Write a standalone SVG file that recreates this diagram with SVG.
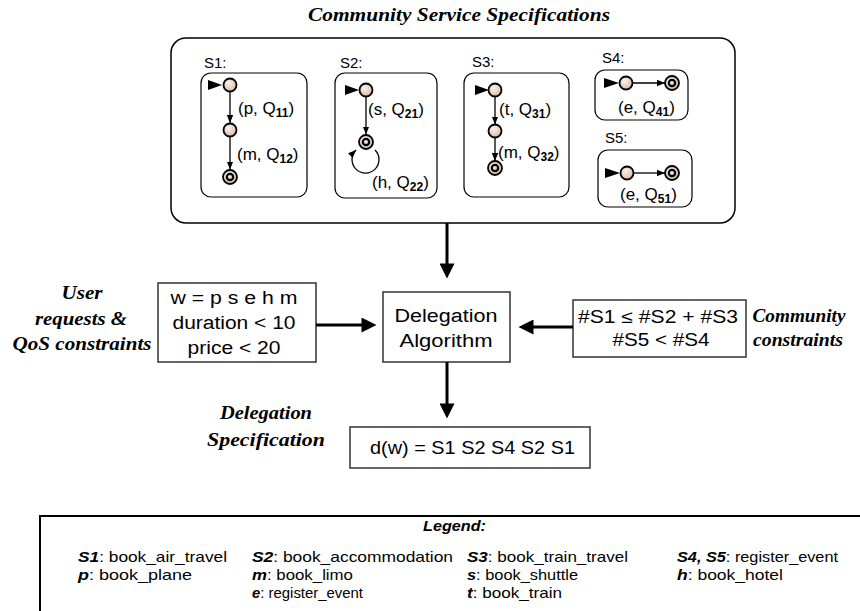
<svg xmlns="http://www.w3.org/2000/svg" width="860" height="611" viewBox="0 0 860 611">
<defs>
<radialGradient id="peach" cx="0.4" cy="0.35" r="0.7"><stop offset="0" stop-color="#fbf2ec"/><stop offset="1" stop-color="#d8b8a4"/></radialGradient>
<marker id="big" viewBox="0 0 10 10" refX="1" refY="5" markerWidth="5.5" markerHeight="5" orient="auto" markerUnits="strokeWidth"><path d="M0,0 L10,5 L0,10 z" fill="#000"/></marker>
<marker id="small" viewBox="0 0 10 10" refX="10" refY="5" markerWidth="8" markerHeight="8" orient="auto" markerUnits="userSpaceOnUse"><path d="M0,1 L10,5 L0,9 z" fill="#000"/></marker>
</defs>
<style>
.lbl{font-family:"Liberation Sans",Arial,sans-serif;fill:#000}
.it{font-family:"Liberation Serif","Times New Roman",serif;font-weight:bold;font-style:italic;fill:#000}
.st{fill:url(#peach);stroke:#000;stroke-width:1.8}
.fin{fill:url(#peach);stroke:#000;stroke-width:2.2}
.tr{stroke:#000;stroke-width:1.3;fill:none;marker-end:url(#small)}
.init{fill:#000}
.svc{fill:#fff;stroke:#000;stroke-width:1.2}
.box{fill:#fff;stroke:#333;stroke-width:1.5}
.big{stroke:#000;stroke-width:3;fill:none;marker-end:url(#big)}
.sub{font-size:12px;font-weight:bold}
.sl{font-size:17px}
.bx{font-size:18px}
.lg{font-size:15px}
.b{font-weight:bold;font-style:italic}
</style>
<rect width="860" height="611" fill="#fff"/>

<text class="it" x="308" y="21" font-size="19" textLength="302" lengthAdjust="spacingAndGlyphs">Community Service Specifications</text>

<g id="community">
<rect x="171" y="38" width="564" height="185" rx="15" fill="#fff" stroke="#000" stroke-width="1.5"/>
</g>

<g id="S1">
<text class="lbl" x="204" y="68" font-size="15">S1:</text>
<rect class="svc" x="201" y="73" width="106" height="124" rx="10"/>
<polygon class="init" points="208,80 222,85 208,90"/>
<line class="tr" x1="230" y1="92" x2="230" y2="123"/>
<line class="tr" x1="230" y1="137" x2="230" y2="169.5"/>
<circle class="st" cx="230" cy="85" r="6.5"/>
<circle class="st" cx="230" cy="130" r="6.5"/>
<circle class="st" cx="230" cy="177" r="7"/>
<circle class="fin" cx="230" cy="177" r="3.2"/>
<text class="lbl sl" x="238" y="114">(p, Q<tspan class="sub" dy="3">11</tspan><tspan dy="-3">)</tspan></text>
<text class="lbl sl" x="237" y="160">(m, Q<tspan class="sub" dy="3">12</tspan><tspan dy="-3">)</tspan></text>
</g>

<g id="S2">
<text class="lbl" x="340" y="68" font-size="15">S2:</text>
<rect class="svc" x="335" y="73" width="102" height="125" rx="10"/>
<polygon class="init" points="345,85 359,90 345,95"/>
<line class="tr" x1="366" y1="97" x2="366" y2="134.5"/>
<path class="tr" d="M375,150 A13.5,13.5 0 1 1 356,150"/>
<circle class="st" cx="366" cy="90" r="6.5"/>
<circle class="st" cx="366" cy="142" r="7"/>
<circle class="fin" cx="366" cy="142" r="3.2"/>
<text class="lbl sl" x="368" y="115">(s, Q<tspan class="sub" dy="3">21</tspan><tspan dy="-3">)</tspan></text>
<text class="lbl sl" x="372" y="188">(h, Q<tspan class="sub" dy="3">22</tspan><tspan dy="-3">)</tspan></text>
</g>

<g id="S3">
<text class="lbl" x="472" y="67" font-size="15">S3:</text>
<rect class="svc" x="464" y="73" width="105" height="124" rx="10"/>
<polygon class="init" points="475,85 489,90 475,95"/>
<line class="tr" x1="495" y1="97" x2="495" y2="124.5"/>
<line class="tr" x1="495" y1="138" x2="495" y2="161"/>
<circle class="st" cx="495" cy="90" r="6.5"/>
<circle class="st" cx="495" cy="131" r="6.5"/>
<circle class="st" cx="495" cy="168" r="7"/>
<circle class="fin" cx="495" cy="168" r="3.2"/>
<text class="lbl sl" x="499" y="115">(t, Q<tspan class="sub" dy="3">31</tspan><tspan dy="-3">)</tspan></text>
<text class="lbl sl" x="498" y="158">(m, Q<tspan class="sub" dy="3">32</tspan><tspan dy="-3">)</tspan></text>
</g>

<g id="S4">
<text class="lbl" x="602" y="63" font-size="15">S4:</text>
<rect class="svc" x="595" y="70" width="93" height="50" rx="10"/>
<polygon class="init" points="604,78 619,83 604,88"/>
<line class="tr" x1="632.5" y1="83" x2="665" y2="83"/>
<circle class="st" cx="626" cy="83" r="6.5"/>
<circle class="st" cx="672" cy="83" r="7"/>
<circle class="fin" cx="672" cy="83" r="3.2"/>
<text class="lbl sl" x="618" y="113">(e, Q<tspan class="sub" dy="3">41</tspan><tspan dy="-3">)</tspan></text>
</g>

<g id="S5">
<text class="lbl" x="605" y="143" font-size="15">S5:</text>
<rect class="svc" x="598" y="150" width="94" height="57" rx="10"/>
<polygon class="init" points="605,168 620,173 605,178"/>
<line class="tr" x1="633.5" y1="173" x2="665" y2="173"/>
<circle class="st" cx="627" cy="173" r="6.5"/>
<circle class="st" cx="672" cy="173" r="7"/>
<circle class="fin" cx="672" cy="173" r="3.2"/>
<text class="lbl sl" x="620" y="200">(e, Q<tspan class="sub" dy="3">51</tspan><tspan dy="-3">)</tspan></text>
</g>

<g id="user-requests">
<text class="it" font-size="18" text-anchor="middle" x="82" y="299" textLength="41" lengthAdjust="spacingAndGlyphs">User</text>
<text class="it" font-size="18" text-anchor="middle" x="81" y="325" textLength="92" lengthAdjust="spacingAndGlyphs">requests &amp;</text>
<text class="it" font-size="18" text-anchor="middle" x="82" y="350" textLength="139" lengthAdjust="spacingAndGlyphs">QoS constraints</text>
<rect class="box" x="158" y="283" width="158" height="79"/>
<text class="lbl bx" text-anchor="middle" x="234" y="304" textLength="127" lengthAdjust="spacingAndGlyphs">w = p s e h m</text>
<text class="lbl bx" text-anchor="middle" x="234" y="329" textLength="123" lengthAdjust="spacingAndGlyphs">duration &lt; 10</text>
<text class="lbl bx" text-anchor="middle" x="234" y="354" textLength="93" lengthAdjust="spacingAndGlyphs">price &lt; 20</text>
</g>

<g id="delegation-algorithm">
<rect class="box" x="383" y="292" width="127" height="70"/>
<text class="lbl bx" text-anchor="middle" x="446" y="322" textLength="103" lengthAdjust="spacingAndGlyphs">Delegation</text>
<text class="lbl bx" text-anchor="middle" x="446" y="347" textLength="93" lengthAdjust="spacingAndGlyphs">Algorithm</text>
</g>

<g id="community-constraints">
<rect class="box" x="573" y="300" width="173" height="57"/>
<text class="lbl bx" text-anchor="middle" x="658" y="323" textLength="160" lengthAdjust="spacingAndGlyphs">#S1 ≤ #S2 + #S3</text>
<text class="lbl bx" text-anchor="middle" x="661" y="346" textLength="97" lengthAdjust="spacingAndGlyphs">#S5 &lt; #S4</text>
<text class="it" font-size="18" text-anchor="middle" x="799" y="322" textLength="93" lengthAdjust="spacingAndGlyphs">Community</text>
<text class="it" font-size="18" text-anchor="middle" x="798" y="346" textLength="90" lengthAdjust="spacingAndGlyphs">constraints</text>
</g>

<g id="delegation-spec">
<text class="it" font-size="18" text-anchor="middle" x="266" y="419" textLength="92" lengthAdjust="spacingAndGlyphs">Delegation</text>
<text class="it" font-size="18" text-anchor="middle" x="266" y="446" textLength="118" lengthAdjust="spacingAndGlyphs">Specification</text>
<rect class="box" x="350" y="427" width="240" height="41"/>
<text class="lbl bx" x="370" y="454" textLength="205" lengthAdjust="spacingAndGlyphs">d(w) = S1 S2 S4 S2 S1</text>
</g>

<g id="connectors">
<line class="big" x1="447" y1="223" x2="447" y2="265"/>
<line class="big" x1="316" y1="325" x2="363" y2="325"/>
<line class="big" x1="573" y1="327" x2="532" y2="327"/>
<line class="big" x1="447" y1="362" x2="447" y2="405"/>
</g>

<g id="legend">
<rect x="40" y="516" width="840" height="120" fill="none" stroke="#000" stroke-width="2"/>
<text class="lbl b" x="423" y="531" font-size="14" textLength="63" lengthAdjust="spacingAndGlyphs">Legend:</text>
<text class="lbl lg" x="78" y="562" textLength="149" lengthAdjust="spacingAndGlyphs"><tspan class="b">S1</tspan>: book_air_travel</text>
<text class="lbl lg" x="252" y="562" textLength="201" lengthAdjust="spacingAndGlyphs"><tspan class="b">S2</tspan>: book_accommodation</text>
<text class="lbl lg" x="467" y="562" textLength="161" lengthAdjust="spacingAndGlyphs"><tspan class="b">S3</tspan>: book_train_travel</text>
<text class="lbl lg" x="677" y="562" textLength="161" lengthAdjust="spacingAndGlyphs"><tspan class="b">S4, S5</tspan>: register_event</text>
<text class="lbl lg" x="78" y="580" textLength="114" lengthAdjust="spacingAndGlyphs"><tspan class="b">p</tspan>: book_plane</text>
<text class="lbl lg" x="252" y="580" textLength="101" lengthAdjust="spacingAndGlyphs"><tspan class="b">m</tspan>: book_limo</text>
<text class="lbl lg" x="467" y="580" textLength="111" lengthAdjust="spacingAndGlyphs"><tspan class="b">s</tspan>: book_shuttle</text>
<text class="lbl lg" x="677" y="580" textLength="106" lengthAdjust="spacingAndGlyphs"><tspan class="b">h</tspan>: book_hotel</text>
<text class="lbl lg" x="252" y="598" textLength="111" lengthAdjust="spacingAndGlyphs"><tspan class="b">e</tspan>: register_event</text>
<text class="lbl lg" x="467" y="598" textLength="95" lengthAdjust="spacingAndGlyphs"><tspan class="b">t</tspan>: book_train</text>
</g>
</svg>
